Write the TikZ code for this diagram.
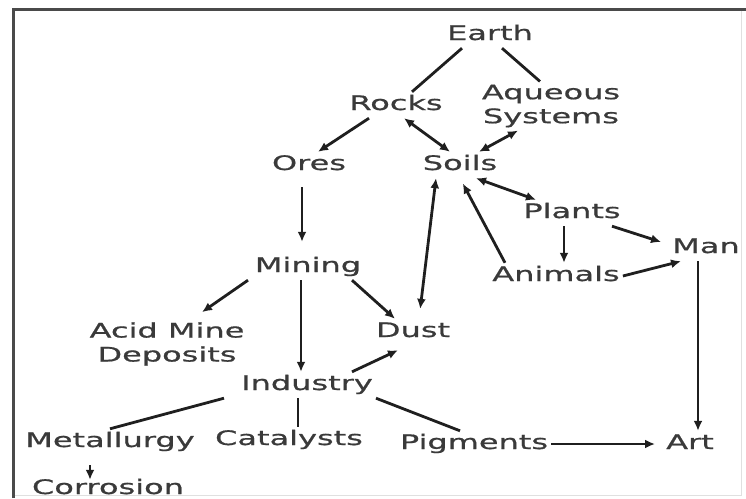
\documentclass[tikz,border=0pt]{standalone}
\usepackage{fontspec}
\setmainfont{DejaVu Sans}[FakeStretch=1.6,FakeBold=0.8]
\usetikzlibrary{arrows.meta}
\definecolor{txtgray}{HTML}{3A3A3A}
\definecolor{framegray}{HTML}{4A4A4A}

\begin{document}
\begin{tikzpicture}[
  x=1pt, y=-1pt,
  >={Latex[length=10pt,width=9pt]},
  box/.style={
    text=txtgray, font=\fontsize{20pt}{24pt}\selectfont,
    inner sep=3pt, text height=15pt, text depth=5pt
  },
  twoline/.style={
    text=txtgray, font=\fontsize{20pt}{24pt}\selectfont,
    inner sep=3pt, align=center
  },
  link/.style={line width=2.8pt, draw=black!88},
  arrow/.style={link, ->},
  both/.style={link, <->}
]
\useasboundingbox (0,0) rectangle (746,498);
% frame
\draw[black!12, line width=1pt] (741,9) -- (741,495) -- (13,495);
\draw[framegray, line width=3pt] (13,498) -- (13,9) -- (746,9);

\node (earth) [box] at (490,35) {Earth};
\node (rocks) [box] at (396,105) {Rocks};
\node (aqueous) [twoline] at (551,106) {Aqueous\\Systems};
\node (ores) [box] at (309,165) {Ores};
\node (soils) [box] at (460,165) {Soils};
\node (plants) [box] at (572,213) {Plants};
\node (man) [box] at (706,248) {Man};
\node (mining) [box] at (308,267) {Mining};
\node (animals) [box] at (556,276) {Animals};
\node (acid) [twoline] at (167,344) {Acid Mine\\Deposits};
\node (dust) [box] at (413,332) {Dust};
\node (industry) [box] at (307,385) {Industry};
\node (metal) [box] at (110,442) {Metallurgy};
\node (catalysts) [box] at (289,440) {Catalysts};
\node (pigments) [box] at (474,444) {Pigments};
\node (art) [box] at (690,444) {Art};
\node (corrosion) [box] at (108,489) {Corrosion};

% upper part
\draw[link] ([xshift=-28pt]earth.south) -- ([xshift=16pt]rocks.north);
\draw[link] ([xshift=12pt]earth.south) -- ([xshift=-11pt]aqueous.north);
\draw[arrow] ([xshift=-27pt]rocks.south) -- ([xshift=9pt]ores.north);
\draw[both] ([xshift=8pt]rocks.south) -- ([xshift=-10pt]soils.north);
\draw[both] ([xshift=-33pt]aqueous.south) -- ([xshift=19pt]soils.north);
\draw[arrow, shorten <=9pt, shorten >=12pt] ([xshift=-7pt]ores.south) -- ([xshift=-6pt]mining.north);
\draw[both] ([xshift=16pt]soils.south) -- ([xshift=-36pt]plants.north);
\draw[arrow] ([xshift=40pt]plants.south) -- ([xshift=-8pt,yshift=6pt]man.west);
\draw[arrow] ([xshift=-8pt]plants.south) -- ([xshift=8pt]animals.north);
\draw[both, shorten >=10pt] ([xshift=-24pt]soils.south) -- ([xshift=6pt]dust.north);
\draw[arrow, shorten >=6pt] ([xshift=-51pt]animals.north) -- (soils.south);
\draw[arrow] (animals.east) -- ([xshift=-25pt]man.south);
\draw[arrow] ([xshift=-8pt]man.south) -- ([xshift=8pt]art.north);

% lower part
\draw[arrow] ([xshift=-60pt]mining.south) -- ([xshift=35pt,yshift=7pt]acid.north);
\draw[arrow] ([xshift=-7pt]mining.south) -- ([xshift=-6pt]industry.north);
\draw[arrow] ([xshift=44pt]mining.south) -- ([xshift=-18pt]dust.north);
\draw[arrow] ([xshift=45pt]industry.north) -- ([xshift=-15pt,yshift=-5pt]dust.south);
\draw[link] ([xshift=-83pt]industry.south) -- (metal.north);
\draw[link] ([xshift=-9pt]industry.south) -- ([xshift=9pt]catalysts.north);
\draw[link] ([xshift=69pt]industry.south) -- ([xshift=-14pt]pigments.north);
\draw[arrow] (pigments.east) -- ([xshift=-8pt]art.west);
\draw[arrow] ([xshift=-20pt,yshift=-10pt]metal.south) -- ([xshift=-18pt,yshift=-4pt]corrosion.north);
\end{tikzpicture}
\end{document}
